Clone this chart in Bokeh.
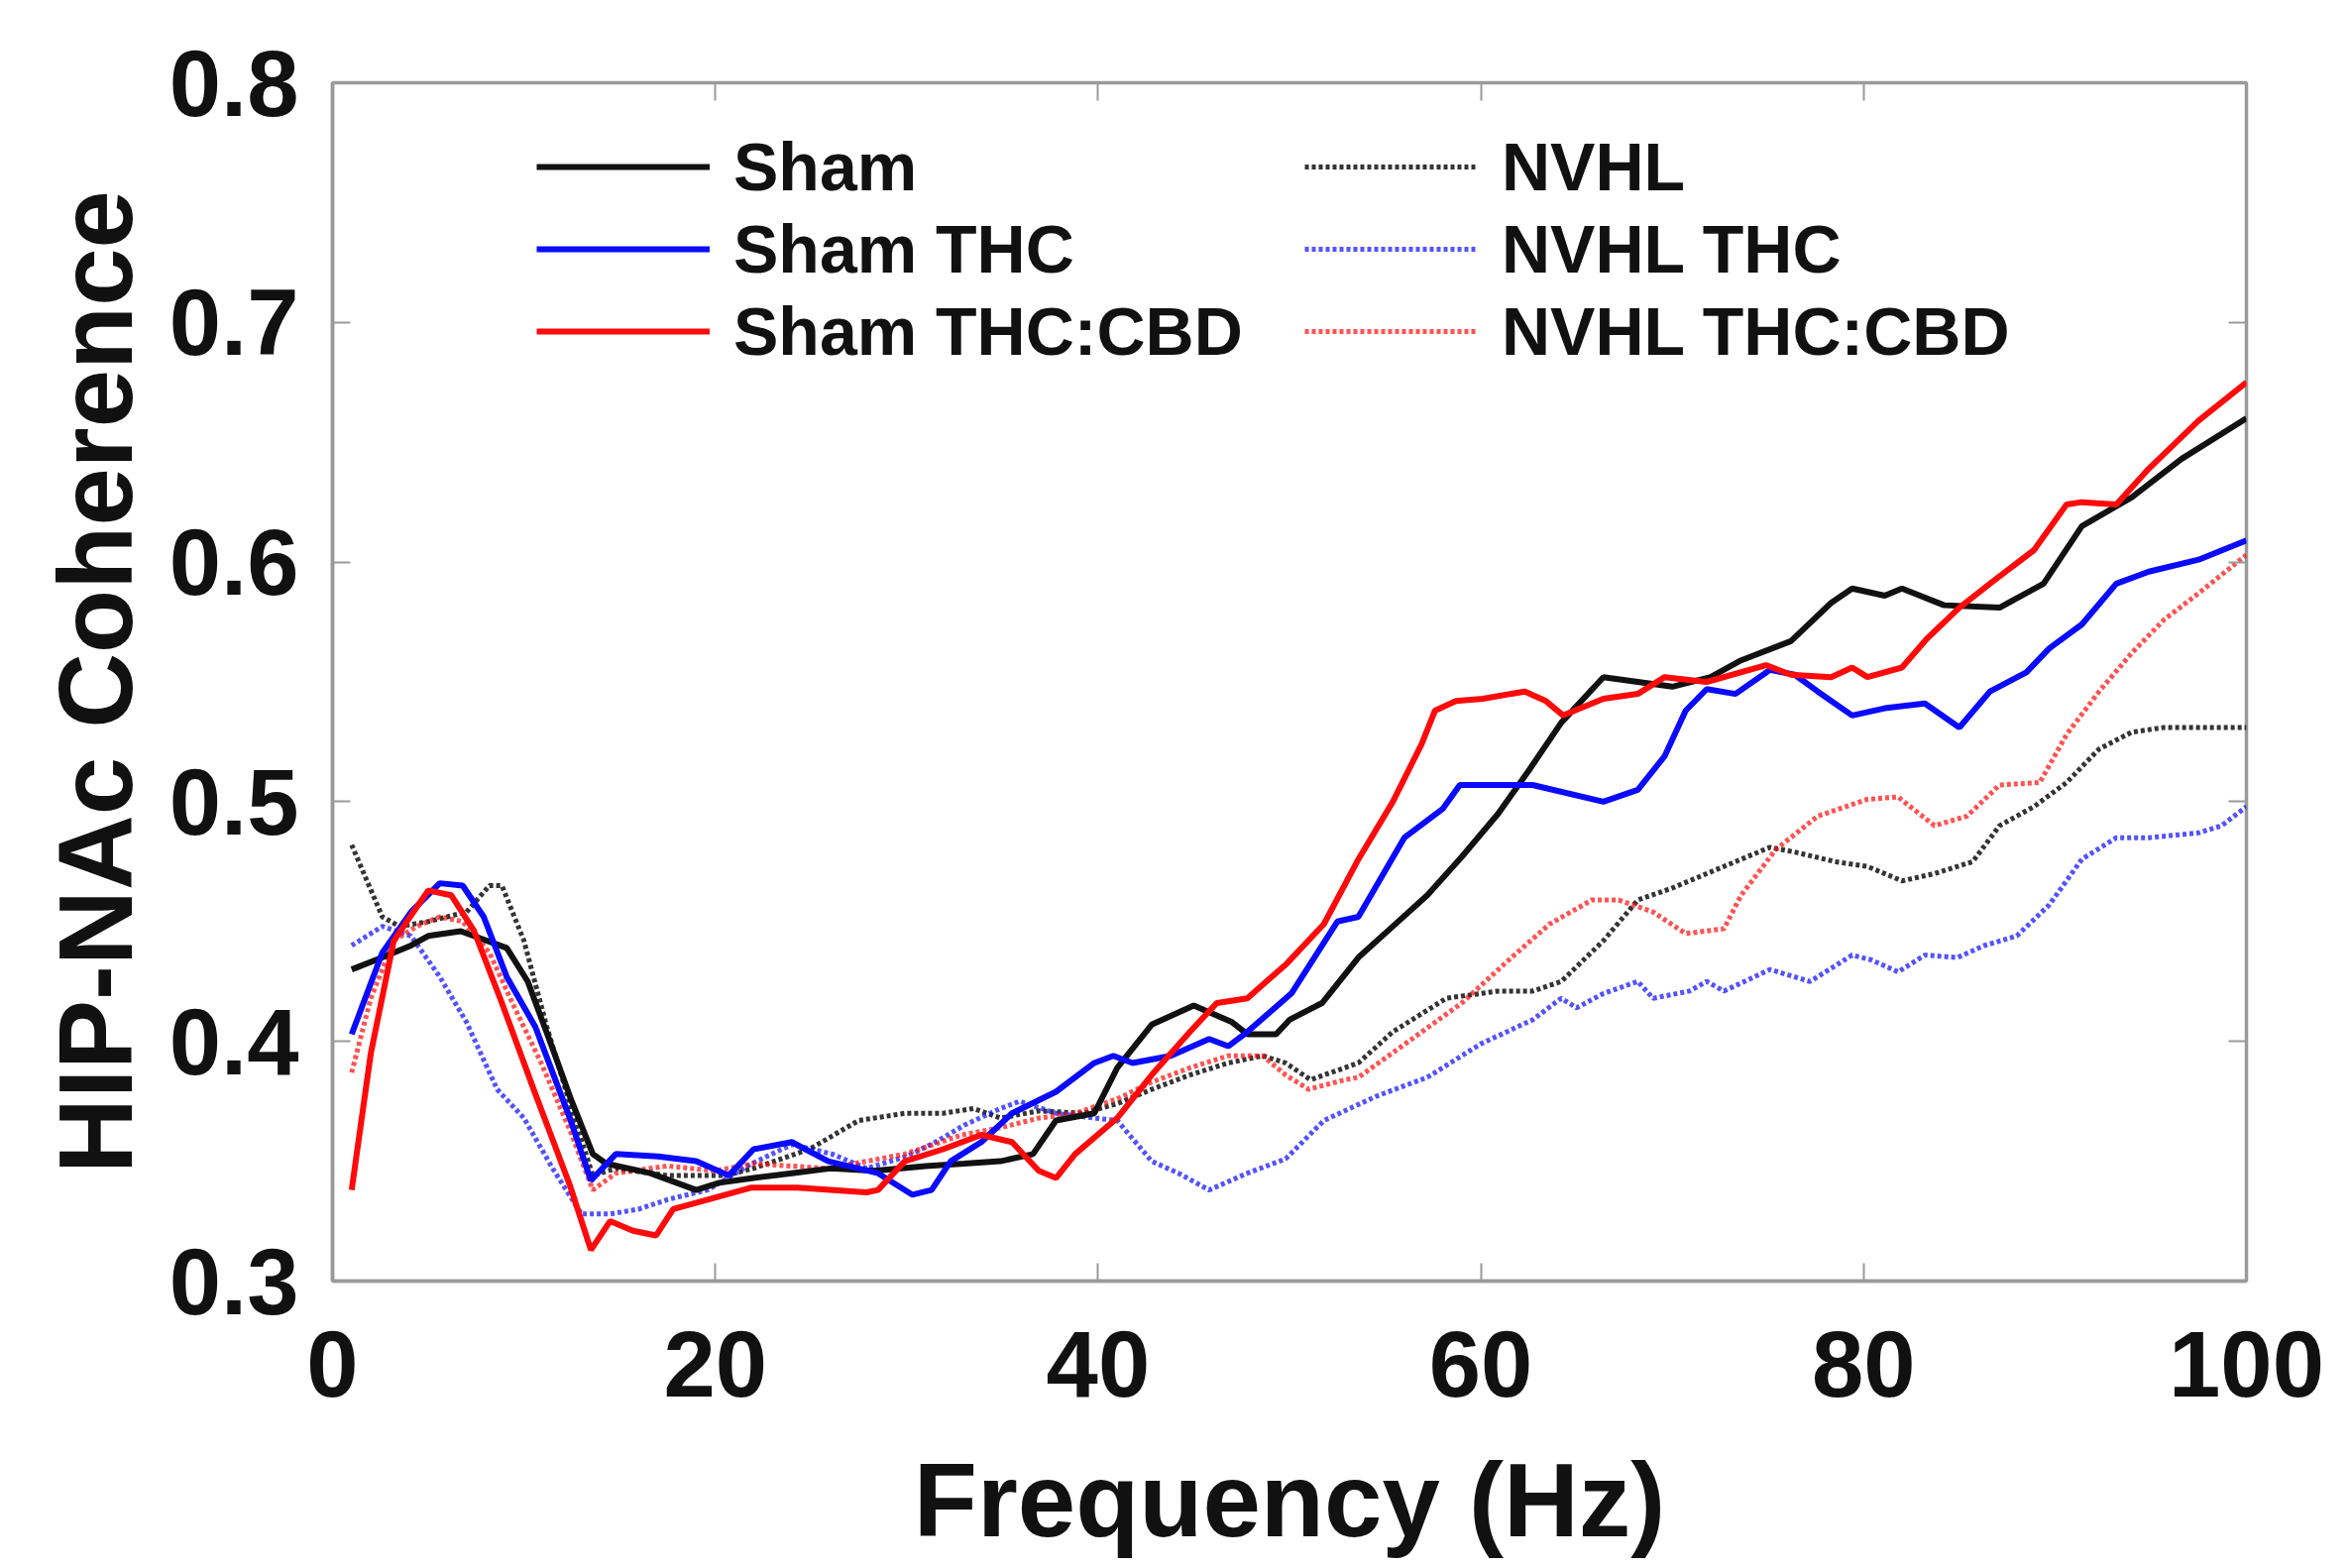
from bokeh.plotting import figure
from bokeh.models import Legend, LegendItem, LinearAxis, Range1d, FixedTicker, CustomLabelingPolicy
from bokeh.embed import file_html
from bokeh.resources import INLINE

# ---------------- data ----------------
sham_f = [1, 2.6, 4.1, 5, 6.7, 9.1, 10.2, 11.5, 12.5, 13.6, 14.3, 16.6, 19, 20.2, 22, 24, 26, 28.3,
          31, 33, 34.9, 36.6, 37.8, 39.8, 41, 42.8, 45, 47, 47.8, 49.3, 50, 51.7, 53.6, 55.4, 57.2,
          59, 60.9, 62.5, 64.2, 66.4, 68.2, 70, 72, 73.6, 76.2, 78.3, 79.4, 81.1, 82, 84.2, 87.1,
          89.4, 91.4, 94, 96.6, 100]
sham_c = [0.430, 0.435, 0.440, 0.444, 0.446, 0.439, 0.425, 0.397, 0.375, 0.353, 0.349, 0.345, 0.338,
          0.341, 0.343, 0.345, 0.347, 0.346, 0.348, 0.349, 0.350, 0.353, 0.367, 0.370, 0.389, 0.407,
          0.415, 0.408, 0.403, 0.403, 0.409, 0.416, 0.435, 0.448, 0.461, 0.477, 0.495, 0.513, 0.533,
          0.552, 0.550, 0.548, 0.552, 0.559, 0.567, 0.583, 0.589, 0.586, 0.589, 0.582, 0.581, 0.591,
          0.615, 0.627, 0.643, 0.660]

sham_thc_f = [1, 2.6, 4.1, 5.6, 6.8, 7.9, 9.1, 10.6, 12.4, 13.5, 14.8, 17, 19, 20.7, 22, 24, 25.9,
              28.5, 30.3, 31.3, 32.3, 33.9, 35.5, 37.8, 39.8, 40.8, 41.8, 43.8, 45.8, 46.8, 47.8,
              50.1, 52.5, 53.6, 56, 58, 58.9, 62.7, 66.4, 68.2, 69.6, 70.7, 71.8, 73.3, 75.1, 76.4,
              77.6, 79.4, 81.1, 83.2, 85, 86.6, 88.5, 89.7, 91.4, 93.2, 94.9, 97.5, 100]
sham_thc_c = [0.403, 0.437, 0.454, 0.466, 0.465, 0.452, 0.427, 0.406, 0.368, 0.342, 0.353, 0.352,
              0.350, 0.344, 0.355, 0.358, 0.350, 0.345, 0.336, 0.338, 0.350, 0.358, 0.370, 0.379,
              0.391, 0.394, 0.391, 0.394, 0.401, 0.398, 0.404, 0.420, 0.450, 0.452, 0.485, 0.497,
              0.507, 0.507, 0.500, 0.505, 0.519, 0.538, 0.547, 0.545, 0.555, 0.553, 0.546, 0.536,
              0.539, 0.541, 0.531, 0.546, 0.554, 0.564, 0.574, 0.591, 0.596, 0.601, 0.609]

sham_cbd_f = [1, 2, 3.2, 5, 6.2, 7.4, 8.85, 10.6, 12.4, 13.5, 14.5, 15.7, 16.9, 17.8, 19.6, 21.9,
              24.3, 27.9, 28.5, 29.9, 31.9, 33.9, 35.5, 36.9, 37.8, 38.8, 41, 42.8, 44.8, 46.2,
              47.8, 49.8, 51.8, 53.6, 55.4, 56.9, 57.6, 58.7, 60.1, 62.3, 63.4, 64.3, 66.4, 68.2,
              69.6, 71.8, 74.9, 76.2, 78.3, 79.4, 80.2, 82, 83.3, 85, 86.6, 88.9, 90.6, 91.4, 93.2,
              94.9, 97.5, 100]
sham_cbd_c = [0.338, 0.395, 0.442, 0.463, 0.461, 0.446, 0.416, 0.378, 0.340, 0.313, 0.325, 0.321,
              0.319, 0.330, 0.334, 0.339, 0.339, 0.337, 0.338, 0.350, 0.355, 0.361, 0.358, 0.346,
              0.343, 0.353, 0.368, 0.386, 0.404, 0.416, 0.418, 0.432, 0.449, 0.476, 0.500, 0.524,
              0.538, 0.542, 0.543, 0.546, 0.542, 0.536, 0.543, 0.545, 0.552, 0.550, 0.557, 0.553,
              0.552, 0.556, 0.552, 0.556, 0.568, 0.581, 0.591, 0.605, 0.624, 0.625, 0.624, 0.639,
              0.659, 0.675]

nvhl_f = [1, 2.6, 3.5, 5, 7, 8.2, 8.85, 10, 11.2, 12.4, 13.6, 14.8, 17.5, 20.5, 22, 24.9, 27.5,
          29.9, 31.9, 33.5, 34.9, 36.9, 39.2, 41, 42.8, 44.8, 46.8, 48.6, 49.8, 51.1, 53.6, 55.4,
          58.2, 60.9, 62.7, 64.2, 66.4, 68.2, 70, 72.7, 75.1, 76.4, 78.5, 80.2, 82, 83.7, 85.7,
          87.1, 88.9, 90.6, 92.3, 94, 95.7, 100]
nvhl_c = [0.482, 0.452, 0.448, 0.450, 0.454, 0.465, 0.465, 0.442, 0.406, 0.374, 0.344, 0.347,
          0.344, 0.344, 0.347, 0.355, 0.367, 0.370, 0.370, 0.372, 0.368, 0.371, 0.370, 0.374,
          0.380, 0.386, 0.391, 0.394, 0.391, 0.384, 0.391, 0.404, 0.418, 0.421, 0.421, 0.425,
          0.442, 0.459, 0.464, 0.473, 0.481, 0.479, 0.475, 0.473, 0.467, 0.470, 0.475, 0.490,
          0.498, 0.508, 0.522, 0.529, 0.531, 0.531]

nvhl_thc_f = [1, 2.6, 4.1, 5.6, 7, 8.6, 10, 11.5, 13, 14.5, 16, 17.5, 19.6, 21.9, 24, 26.1, 27.9,
              30, 31.5, 33, 34.9, 35.9, 37.8, 39.8, 41, 42.8, 44.2, 45.8, 47.8, 49.8, 51.8, 54.5,
              57.2, 60, 62.7, 64.2, 65, 66.4, 68.2, 69, 70.9, 71.8, 72.7, 75.1, 77.2, 79.4, 80.4,
              81.8, 83.2, 84.9, 86.3, 88, 89.7, 91.4, 93.2, 94.9, 97.5, 98.7, 100]
nvhl_thc_c = [0.440, 0.448, 0.444, 0.427, 0.408, 0.380, 0.368, 0.347, 0.328, 0.328, 0.330, 0.334,
              0.338, 0.349, 0.357, 0.353, 0.347, 0.352, 0.358, 0.365, 0.372, 0.375, 0.370, 0.368,
              0.367, 0.350, 0.345, 0.338, 0.345, 0.351, 0.367, 0.377, 0.385, 0.399, 0.409, 0.418,
              0.414, 0.420, 0.425, 0.418, 0.421, 0.425, 0.421, 0.430, 0.425, 0.436, 0.434, 0.429,
              0.436, 0.435, 0.440, 0.444, 0.457, 0.476, 0.485, 0.485, 0.487, 0.490, 0.498]

nvhl_cbd_f = [1, 2, 3.2, 4.4, 5.6, 6.8, 8.2, 9.4, 10.9, 12.4, 13.6, 14.8, 17.5, 20, 22, 25.9, 29.9,
              32.9, 34.9, 36.9, 38.8, 41, 42.8, 44.8, 46.8, 48.6, 49.8, 51, 52.9, 53.6, 56.4, 59,
              61.6, 63.6, 65.8, 67.2, 69, 70.7, 72.7, 73.6, 75.4, 77.6, 80.2, 81.8, 83.7, 85.4,
              87.1, 89.2, 90.6, 92.3, 94, 95.7, 97.5, 100]
nvhl_cbd_c = [0.387, 0.418, 0.442, 0.448, 0.452, 0.450, 0.437, 0.416, 0.391, 0.363, 0.338, 0.345,
              0.348, 0.346, 0.349, 0.347, 0.353, 0.361, 0.364, 0.368, 0.370, 0.376, 0.383, 0.389,
              0.394, 0.394, 0.386, 0.380, 0.384, 0.385, 0.401, 0.416, 0.435, 0.449, 0.459, 0.459,
              0.454, 0.445, 0.447, 0.461, 0.480, 0.494, 0.501, 0.502, 0.490, 0.494, 0.507, 0.508,
              0.528, 0.546, 0.562, 0.576, 0.587, 0.603]

x_ticks = [0, 20, 40, 60, 80, 100]
y_ticks = [0.3, 0.4, 0.5, 0.6, 0.7, 0.8]
y_tick_labels = {0.3: "0.3", 0.4: "0.4", 0.5: "0.5", 0.6: "0.6", 0.7: "0.7", 0.8: "0.8"}

col1_labels = ["Sham", "Sham THC", "Sham THC:CBD"]
col2_labels = ["NVHL", "NVHL THC", "NVHL THC:CBD"]

# ---------------- figure ----------------
FONT = "Liberation Sans"
GREY = "#9a9a9a"

p = figure(width=2373, height=1582, output_backend="svg", toolbar_location=None,
           x_range=Range1d(0, 100), y_range=Range1d(0.3, 0.8),
           min_border_left=335, min_border_right=107, min_border_top=83, min_border_bottom=290,
           background_fill_color="white", border_fill_color="white")
p.xgrid.visible = False
p.ygrid.visible = False
p.outline_line_color = GREY
p.outline_line_width = 3.5

for ax in (p.xaxis[0], p.yaxis[0]):
    ax.axis_line_color = GREY
    ax.axis_line_width = 3.5
    ax.major_tick_line_color = GREY
    ax.major_tick_line_width = 2
    ax.major_tick_in = 18
    ax.major_tick_out = 0
    ax.minor_tick_line_color = None
    ax.major_label_text_font = FONT
    ax.major_label_text_font_style = "bold"
    ax.major_label_text_font_size = "94px"
    ax.major_label_text_color = "#111111"
    ax.axis_label_text_font = FONT
    ax.axis_label_text_font_style = "bold"
    ax.axis_label_text_font_size = "105px"
    ax.axis_label_text_color = "#111111"

p.xaxis.ticker = FixedTicker(ticks=x_ticks)
p.yaxis.ticker = FixedTicker(ticks=y_ticks)
p.yaxis.major_label_overrides = y_tick_labels
p.xaxis.axis_label = "Frequency (Hz)"
p.yaxis.axis_label = "HIP-NAc Coherence"
p.xaxis.major_label_standoff = 50
p.xaxis.axis_label_standoff = 43
p.yaxis.major_label_standoff = 34
p.yaxis.axis_label_standoff = 13

# inward ticks on top and right (box style), no labels drawn
def box_axis(ticks):
    return LinearAxis(ticker=FixedTicker(ticks=ticks), major_label_text_font_size="10px",
                      major_label_policy=CustomLabelingPolicy(code="return []"),
                      axis_line_color=None, major_tick_in=18, major_tick_out=0,
                      major_tick_line_color=GREY, major_tick_line_width=2,
                      minor_tick_line_color=None, major_label_standoff=0)


p.add_layout(box_axis(x_ticks), "above")
p.add_layout(box_axis(y_ticks), "right")

BLACK, BLUE, RED = "#111111", "#0a0aff", "#ff0a0a"
DOT = "4 3"

r_nvhl = p.line(nvhl_f, nvhl_c, line_color=BLACK, line_width=5, line_dash=DOT, line_alpha=0.85)
r_nvhl_thc = p.line(nvhl_thc_f, nvhl_thc_c, line_color=BLUE, line_width=5, line_dash=DOT, line_alpha=0.7)
r_nvhl_cbd = p.line(nvhl_cbd_f, nvhl_cbd_c, line_color=RED, line_width=5, line_dash=DOT, line_alpha=0.7)
r_sham = p.line(sham_f, sham_c, line_color=BLACK, line_width=6)
r_sham_thc = p.line(sham_thc_f, sham_thc_c, line_color=BLUE, line_width=6)
r_sham_cbd = p.line(sham_cbd_f, sham_cbd_c, line_color=RED, line_width=6)


def make_legend(labels, renderers, loc):
    return Legend(items=[LegendItem(label=l, renderers=[r]) for l, r in zip(labels, renderers)],
                  location=loc, orientation="vertical",
                  glyph_width=175, glyph_height=76, label_height=76, label_width=10,
                  label_standoff=24, spacing=5, padding=0, margin=0,
                  border_line_color=None, background_fill_alpha=0,
                  label_text_font=FONT, label_text_font_style="bold",
                  label_text_font_size="68px", label_text_color="#111111")


p.add_layout(make_legend(col1_labels, [r_sham, r_sham_thc, r_sham_cbd], (206, 919)))
p.add_layout(make_legend(col2_labels, [r_nvhl, r_nvhl_thc, r_nvhl_cbd], (981, 919)))

open("out.html", "w").write(file_html(p, INLINE))
